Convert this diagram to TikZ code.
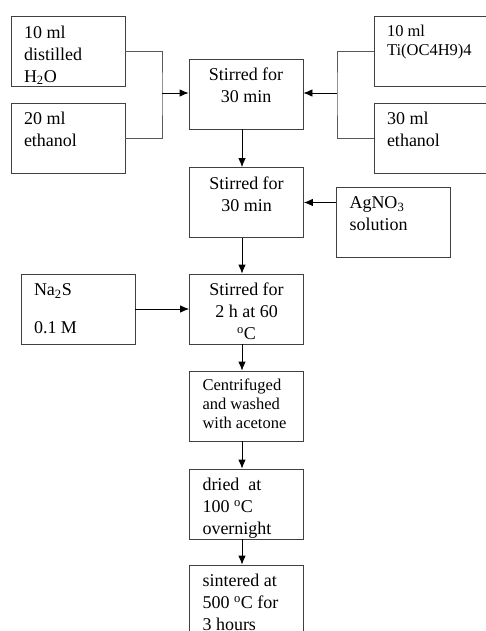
\documentclass[tikz,border=0pt]{standalone}
\usepackage{fontspec}
\setmainfont{Liberation Serif}
\usetikzlibrary{arrows.meta,positioning}
\newcommand{\leftcell}[1]{\parbox[c][57pt][t]{88pt}{\fontsize{18}{22}\selectfont\raggedright\strut#1}}
\newcommand{\midcell}[1]{\parbox[c][57pt][t]{96pt}{\fontsize{18}{22}\selectfont\centering\strut#1}}
\newcommand{\smallcell}[1]{\parbox[c][57pt][t]{88pt}{\fontsize{16.5}{19}\selectfont\raggedright\strut#1}}
\tikzset{
  stage/.style={draw=black!75, line width=0.8pt, inner sep=0pt, minimum width=114pt, minimum height=70pt},
  feed/.style={-{Latex[length=9pt,width=7.5pt]}, line width=0.8pt},
  joinline/.style={draw=black!65, line width=0.8pt}
}
\begin{document}
\begin{tikzpicture}[x=1pt,y=-1pt]
\useasboundingbox (0,0) rectangle (486,631);
\clip (0,0) rectangle (486,631);
% inputs of the first step
\node[stage] (water) at (68,51.5) {\leftcell{10 ml\\distilled\\H\textsubscript{2}O}};
\node[stage] (etoha) at (68,138) {\leftcell{20 ml\\ethanol}};
\node[stage] (tbot) at (431,51.5) {\smallcell{10 ml\\Ti(OC4H9)4}};
\node[stage] (etohb) at (431,138) {\leftcell{30 ml\\ethanol}};
% main line
\node[stage] (stir1) at (246,94) {\midcell{Stirred for\\30 min}};
\node[stage] (stir2) at (246.5,202.5) {\midcell{Stirred for\\30 min}};
\node[stage] (agno) at (393.5,222) {\leftcell{AgNO\textsubscript{3}\\solution}};
\node[stage] (stir3) at (246.5,309) {\midcell{Stirred for\\2 h at 60\\\textsuperscript{o}C}};
\node[stage] (nas) at (78,309) {\leftcell{Na\textsubscript{2}S\\[16pt]0.1 M}};
\node[stage] (wash) at (246.5,406) {\smallcell{Centrifuged\\and washed\\with acetone}};
\node[stage] (dry) at (246.5,504) {\leftcell{dried~ at\\100 \textsuperscript{o}C\\overnight}};
\node[stage] (sinter) at (246.5,600) {\leftcell{sintered at\\500 \textsuperscript{o}C for\\3 hours}};
% joins
\coordinate (jl) at (162,93);
\coordinate (jr) at (337,93);
\draw[joinline] (water.east) -| (jl) |- (etoha.east);
\draw[joinline] (tbot.west) -| (jr) |- (etohb.west);
\draw[feed] (jl) -- (jl -| stir1.west);
\draw[feed] (jr) -- (jr -| stir1.east);
\draw[feed] (agno.west |- stir2) -- (stir2.east);
\draw[feed] (nas.east) -- (nas.east -| stir3.west);
\draw[feed] ([xshift=-4pt]stir1.south) -- ([xshift=-4.5pt]stir2.north);
\draw[feed] ([xshift=-4.5pt]stir2.south) -- ([xshift=-4.5pt]stir3.north);
\draw[feed] ([xshift=-4.5pt]stir3.south) -- ([xshift=-4.5pt]wash.north);
\draw[feed] ([xshift=-4.5pt]wash.south) -- ([xshift=-4.5pt]dry.north);
\draw[feed] ([xshift=-4.5pt]dry.south) -- ([xshift=-4.5pt]sinter.north);
\end{tikzpicture}
\end{document}
